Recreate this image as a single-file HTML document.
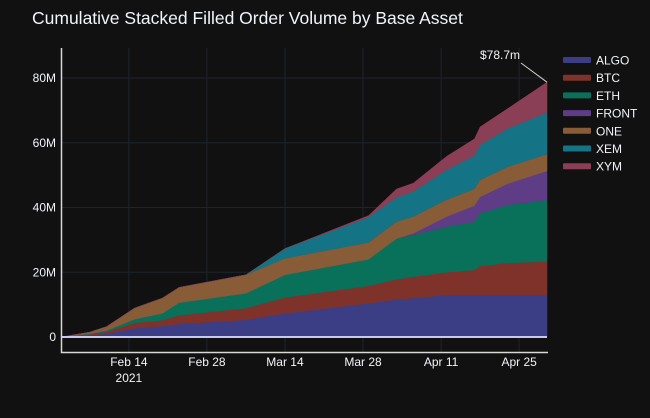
<!DOCTYPE html>
<html><head><meta charset="utf-8"><style>
html,body{margin:0;padding:0;background:#111111;}
svg{display:block;font-family:"Liberation Sans",Arial,sans-serif;}
</style></head><body>
<svg id="chart" width="650" height="418">
<rect width="650" height="418" fill="#111111"/>
<text x="32" y="24" fill="#f2f5fa" font-size="17.5">Cumulative Stacked Filled Order Volume by Base Asset</text>
<g id="grid"></g><g id="areas"></g><g id="axes"></g><g id="legend"></g>
</svg>
<script>
const days = [0,5,8,13,18,21,33,40,55,60,63,69,74,75,80,87];
const algo = [0,0.5,1.0,2.7,3.4,4.0,5.3,7.3,10.4,11.6,12.0,13.0,13.0,13.0,13.0,13.0];
const btc  = [0,0.3,0.6,1.7,1.8,2.7,3.6,4.9,5.4,6.2,6.6,7.0,7.7,8.9,9.9,10.3];
const eth  = [0,0.2,0.4,1.1,2.1,3.9,4.6,7.0,8.2,12.6,12.9,14.1,14.9,16.3,17.9,19.0];
const front= [0,0,0,0,0,0,0,0,0,0,0.5,3.1,5.0,5.1,6.6,9.0];
const one  = [0,0.5,1.2,3.4,4.7,4.7,5.7,5.1,5.2,5.2,5.2,5.2,5.2,5.2,5.2,5.2];
const xem  = [0,0,0,0,0,0,0,3.0,7.8,7.5,7.7,9.2,10.2,10.8,11.8,12.8];
const xym  = [0,0,0,0,0,0,0,0,0.5,2.6,2.6,4.2,5.2,5.6,6.2,9.4];
const seriesNames = ["ALGO","BTC","ETH","FRONT","ONE","XEM","XYM"];
const yTicks = [0,20,40,60,80];
const yTickLabels = ["0","20M","40M","60M","80M"];
const xTickDays = [12,26,40,54,68,82];
const xTickLabels = ["Feb 14","Feb 28","Mar 14","Mar 28","Apr 11","Apr 25"];
const annotationText = "$78.7m";

const series=[algo,btc,eth,front,one,xem,xym];
const colors=["#3b3e85","#7f322a","#09705a","#5e3c86","#875c36","#147385","#8b3f56"];
const X0=62,X1=547,Y0=337,PXM=3.2375, D0=0, D1=87;
const xs=d=>X0+(d-D0)/(D1-D0)*(X1-X0);
const ys=v=>Y0-v*PXM;
const NS="http://www.w3.org/2000/svg";
function mk(tag,attrs,parent){const e=document.createElementNS(NS,tag);for(const k in attrs)e.setAttribute(k,attrs[k]);parent.appendChild(e);return e;}
const grid=document.getElementById('grid'),areas=document.getElementById('areas'),axes=document.getElementById('axes'),legend=document.getElementById('legend');
yTicks.forEach((t,i)=>{
  if(t>0){const l=mk('line',{x1:X0,x2:X1,y1:ys(t),y2:ys(t),stroke:'#1e242c','stroke-width':1},grid);
  
  }
  const tx=mk('text',{x:X0-6,y:ys(t)+4,fill:'#f2f5fa','font-size':12,'text-anchor':'end'},axes);
  tx.textContent=yTickLabels[i];
  
  
});
xTickDays.forEach((d,i)=>{
  const l=mk('line',{x1:xs(d),x2:xs(d),y1:48,y2:352,stroke:'#1e242c','stroke-width':1},grid);
  
  
  const tx=mk('text',{x:xs(d),y:366,fill:'#f2f5fa','font-size':12,'text-anchor':'middle'},axes);
  tx.textContent=xTickLabels[i];
  
  
});
const yr=mk('text',{x:xs(12),y:382,fill:'#f2f5fa','font-size':12,'text-anchor':'middle'},axes);
yr.textContent="2021";


let base=days.map(()=>0);
series.forEach((s,k)=>{
  const top=base.map((b,i)=>b+s[i]);
  let d="M"+days.map((dd,i)=>xs(dd)+","+ys(top[i])).join(" L");
  for(let i=days.length-1;i>=0;i--)d+=" L"+xs(days[i])+","+ys(base[i]);
  const p=mk('path',{d:d+"Z",fill:colors[k],stroke:colors[k],'stroke-width':0.5},areas);
  
  
  base=top;
});
const zl=mk('line',{x1:X0,x2:X1,y1:Y0,y2:Y0,stroke:'#c8c8f0','stroke-width':2},axes);


const ax=mk('path',{d:"M61.5,48 V352.5 H548",fill:'none',stroke:'#d8d8d8','stroke-width':1.5},axes);


const last=base[base.length-1];
const al=mk('line',{x1:521,y1:63,x2:xs(days[days.length-1]),y2:ys(last),stroke:'#d0d0d0','stroke-width':1},axes);


const at=mk('text',{x:500,y:59,fill:'#f2f5fa','font-size':12,'text-anchor':'middle'},axes);
at.textContent=annotationText;


seriesNames.forEach((n,i)=>{
  const y=60+i*17.7;
  const g=mk('g',{},legend);
  
  
  mk('rect',{x:563,y:y-3,width:28,height:6,fill:colors[i],rx:1},g);
  const t=mk('text',{x:596,y:y+4.5,fill:'#f2f5fa','font-size':12},g);
  t.textContent=n;
});
</script>
</body></html>
